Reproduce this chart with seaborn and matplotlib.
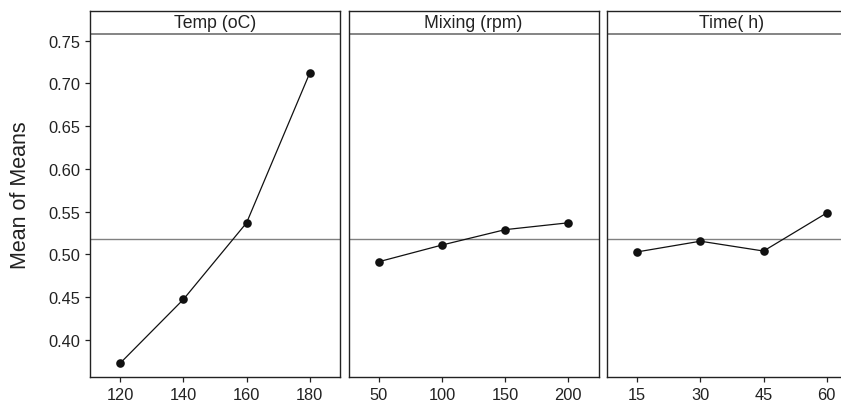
import numpy as np
import pandas as pd
import matplotlib
matplotlib.use("Agg")
import matplotlib.pyplot as plt
import seaborn as sns

# Main effects plot for means
factors = ["Temp (oC)", "Mixing (rpm)", "Time( h)"]
temp_levels = [120, 140, 160, 180]
temp_means = [0.373, 0.4475, 0.537, 0.712]
mixing_levels = [50, 100, 150, 200]
mixing_means = [0.4915, 0.511, 0.529, 0.537]
time_levels = [15, 30, 45, 60]
time_means = [0.503, 0.5155, 0.504, 0.5485]
grand_mean = 0.5177
y_ticks = [0.40, 0.45, 0.50, 0.55, 0.60, 0.65, 0.70, 0.75]

levels = [temp_levels, mixing_levels, time_levels]
means = [temp_means, mixing_means, time_means]
df = pd.DataFrame({
    "factor": np.repeat(factors, 4),
    "level": np.concatenate(levels),
    "mean": np.concatenate(means),
})

sns.set_style("ticks")
plt.rcParams["font.family"] = ["Liberation Sans", "DejaVu Sans"]

g = sns.FacetGrid(df, col="factor", col_order=factors, sharex=False, sharey=True,
                  height=4.1, aspect=0.68, despine=False)
g.map_dataframe(sns.lineplot, x="level", y="mean", color="#111111",
                marker="o", markersize=6.2, markeredgewidth=0,
                linewidth=0.9)
g.figure.set_size_inches(8.41, 4.10)
g.set_titles("")

W, H = 841, 410
left, top, bottom = 90, 12, 378
pw, gap = 250, 8.5
strip_h = 23

for i, (ax, lv) in enumerate(zip(g.axes.flat, levels)):
    x0 = left + i * (pw + gap)
    ax.set_position([x0 / W, 1 - bottom / H, pw / W, (bottom - top) / H])
    rng = lv[-1] - lv[0]
    ax.set_xlim(lv[0] - 0.16 * rng, lv[-1] + 0.16 * rng)
    ax.set_xticks(lv)
    ax.set_ylim(0.3567, 0.7847)
    ax.set_yticks(y_ticks)
    ax.set_yticklabels([f"{t:.2f}" for t in y_ticks])
    ax.axhline(grand_mean, color="#808080", linewidth=1.0, zorder=0)
    # strip at the top
    frac = 1 - strip_h / (bottom - top)
    ax.axhline(0.758, color="#707070", linewidth=1.2)
    ax.text(0.5, (1 + frac) / 2, factors[i], transform=ax.transAxes,
            ha="center", va="center", fontsize=12.7, color="#222222")
    ax.set_xlabel("")
    ax.set_ylabel("")
    for s in ax.spines.values():
        s.set_color("#222222")
        s.set_linewidth(1.0)
    ax.tick_params(axis="both", labelsize=11.8, length=3.6, width=0.9,
                   color="#222222", labelcolor="#222222", pad=3.5)
    if i > 0:
        ax.tick_params(axis="y", left=False, labelleft=False)

g.axes.flat[0].set_ylabel("Mean of Means", fontsize=15.5, color="#222222", labelpad=12)

g.figure.savefig("out.png", dpi=100)
